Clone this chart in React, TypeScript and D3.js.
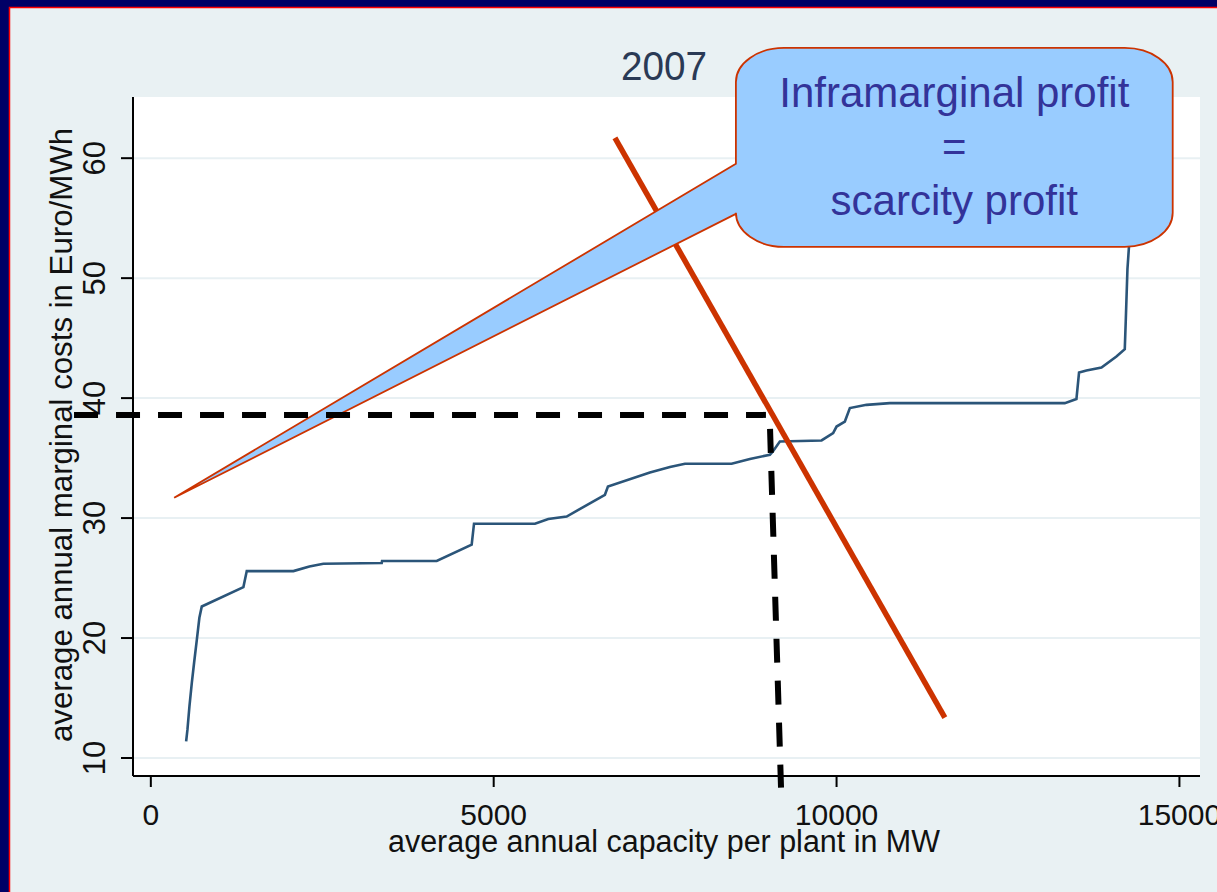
import React, { useEffect, useRef } from "react";
import * as d3 from "d3";

// supply curve: capacity (MW) / marginal cost (Euro/MWh)
const capacity = [
  515, 534, 563, 598, 631, 671, 708, 743, 1350, 1399, 2079, 2312, 2516, 3367,
  3372, 4169, 4679, 4713, 5602, 5796, 6064, 6622, 6666, 7278, 7570, 7789, 8469,
  8736, 9028, 9071, 9173, 9781, 9950, 10000, 10121, 10194, 10437, 10777, 13328,
  13498, 13536, 13644, 13863, 14081, 14203, 14217, 14242, 14265, 14290,
];
const cost = [
  11.38, 12.36, 14.3, 16.28, 17.94, 19.86, 21.69, 22.63, 24.25, 25.58, 25.58,
  25.97, 26.19, 26.25, 26.42, 26.42, 27.78, 29.53, 29.53, 29.92, 30.13, 31.94,
  32.63, 33.8, 34.25, 34.53, 34.53, 34.92, 35.28, 35.55, 36.38, 36.47, 37.08,
  37.63, 38.05, 39.17, 39.44, 39.58, 39.58, 39.92, 42.13, 42.3, 42.55, 43.47,
  44.08, 46.38, 50.75, 52.69, 56.5,
];

const xTicks = [0, 5000, 10000, 15000];
const yTicks = [10, 20, 30, 40, 50, 60];

// demand line (start, end)
const demandX = [6768, 11579];
const demandY = [61.7, 13.36];

// dashed price / quantity guides
const priceLineX = [-1120, 8970];
const priceLineY = [38.6, 38.6];
const quantityLineX = [9030, 9190];
const quantityLineY = [37.44, 7.53];

// callout box and pointer, in data units
const calloutX = [8532, 14902];
const calloutY = [69.19, 52.61];
const pointerY = [59.53, 55.36];
const pointerTip = [340, 31.69];
const calloutLines = ["Inframarginal profit", "=", "scarcity profit"];

const W = 1217;
const H = 892;

const App = () => {
  const ref = useRef<SVGSVGElement>(null);

  useEffect(() => {
    const svg = d3.select(ref.current);
    svg.selectAll("*").remove();

    const font = "'Liberation Sans', Arial, sans-serif";

    // frame
    svg.append("rect").attr("width", W).attr("height", H).attr("fill", "#000066");
    svg
      .append("rect")
      .attr("x", 9.5)
      .attr("y", 7.5)
      .attr("width", W)
      .attr("height", H)
      .attr("fill", "#e9f1f3")
      .attr("stroke", "#ff0000")
      .attr("stroke-width", 1.5);

    const x = d3.scaleLinear().domain([-260, 15300]).range([133, 1200]);
    const y = d3.scaleLinear().domain([8.5, 65.1]).range([776, 97]);

    // plot region
    svg
      .append("rect")
      .attr("x", x.range()[0])
      .attr("y", y.range()[1])
      .attr("width", x.range()[1] - x.range()[0])
      .attr("height", y.range()[0] - y.range()[1])
      .attr("fill", "#ffffff");

    // grid
    svg
      .append("g")
      .selectAll("line")
      .data(yTicks)
      .join("line")
      .attr("x1", x.range()[0])
      .attr("x2", x.range()[1])
      .attr("y1", (d) => y(d))
      .attr("y2", (d) => y(d))
      .attr("stroke", "#e8f0f3")
      .attr("stroke-width", 2);

    // axes
    const axisColor = "#000";
    svg
      .append("line")
      .attr("x1", x.range()[0])
      .attr("x2", x.range()[0])
      .attr("y1", y.range()[1])
      .attr("y2", y.range()[0])
      .attr("stroke", axisColor)
      .attr("stroke-width", 2);
    svg
      .append("line")
      .attr("x1", x.range()[0])
      .attr("x2", x.range()[1])
      .attr("y1", y.range()[0])
      .attr("y2", y.range()[0])
      .attr("stroke", axisColor)
      .attr("stroke-width", 2);

    svg
      .append("g")
      .selectAll("line")
      .data(yTicks)
      .join("line")
      .attr("x1", x.range()[0] - 12)
      .attr("x2", x.range()[0])
      .attr("y1", (d) => y(d))
      .attr("y2", (d) => y(d))
      .attr("stroke", axisColor)
      .attr("stroke-width", 2);

    svg
      .append("g")
      .selectAll("text")
      .data(yTicks)
      .join("text")
      .attr("transform", (d) => `translate(105, ${y(d)}) rotate(-90)`)
      .attr("text-anchor", "middle")
      .attr("font-family", font)
      .attr("font-size", 31)
      .attr("fill", "#111")
      .text((d) => d);

    svg
      .append("g")
      .selectAll("line")
      .data(xTicks)
      .join("line")
      .attr("x1", (d) => x(d))
      .attr("x2", (d) => x(d))
      .attr("y1", y.range()[0])
      .attr("y2", y.range()[0] + 11)
      .attr("stroke", axisColor)
      .attr("stroke-width", 2);

    svg
      .append("g")
      .selectAll("text")
      .data(xTicks)
      .join("text")
      .attr("x", (d) => x(d))
      .attr("y", 825)
      .attr("text-anchor", "middle")
      .attr("font-family", font)
      .attr("font-size", 30)
      .attr("fill", "#111")
      .text((d) => d);

    // axis titles
    svg
      .append("text")
      .attr("x", 664)
      .attr("y", 852)
      .attr("text-anchor", "middle")
      .attr("font-family", font)
      .attr("font-size", 31)
      .attr("textLength", 552)
      .attr("lengthAdjust", "spacingAndGlyphs")
      .attr("fill", "#111")
      .text("average annual capacity per plant in MW");

    svg
      .append("text")
      .attr("transform", "translate(72, 435) rotate(-90)")
      .attr("text-anchor", "middle")
      .attr("font-family", font)
      .attr("font-size", 31)
      .attr("textLength", 614)
      .attr("lengthAdjust", "spacingAndGlyphs")
      .attr("fill", "#111")
      .text("average annual marginal costs in Euro/MWh");

    // title
    svg
      .append("text")
      .attr("x", 664)
      .attr("y", 79.5)
      .attr("text-anchor", "middle")
      .attr("font-family", font)
      .attr("font-size", 40)
      .attr("textLength", 86)
      .attr("lengthAdjust", "spacingAndGlyphs")
      .attr("fill", "#2a3a55")
      .text("2007");

    // supply curve
    const pts = capacity.map((c, i) => [c, cost[i]] as [number, number]);
    const line = d3
      .line<[number, number]>()
      .x((d) => x(d[0]))
      .y((d) => y(d[1]));
    svg
      .append("path")
      .attr("d", line(pts))
      .attr("fill", "none")
      .attr("stroke", "#2b5579")
      .attr("stroke-width", 2.6);

    // demand
    svg
      .append("line")
      .attr("x1", x(demandX[0]))
      .attr("y1", y(demandY[0]))
      .attr("x2", x(demandX[1]))
      .attr("y2", y(demandY[1]))
      .attr("stroke", "#cc3300")
      .attr("stroke-width", 5.5);

    // callout
    const bx0 = x(calloutX[0]);
    const bx1 = x(calloutX[1]);
    const by0 = y(calloutY[0]);
    const by1 = y(calloutY[1]);
    const rx = 48;
    const ry = 34;
    const p = d3.path();
    p.moveTo(bx0 + rx, by0);
    p.lineTo(bx1 - rx, by0);
    p.bezierCurveTo(bx1 - rx * 0.45, by0, bx1, by0 + ry * 0.45, bx1, by0 + ry);
    p.lineTo(bx1, by1 - ry);
    p.bezierCurveTo(bx1, by1 - ry * 0.45, bx1 - rx * 0.45, by1, bx1 - rx, by1);
    p.lineTo(bx0 + rx, by1);
    p.bezierCurveTo(bx0 + rx * 0.45, by1, bx0, by1 - ry * 0.45, bx0, by1 - ry);
    p.lineTo(bx0, y(pointerY[1]));
    p.lineTo(x(pointerTip[0]), y(pointerTip[1]));
    p.lineTo(bx0, y(pointerY[0]));
    p.lineTo(bx0, by0 + ry);
    p.bezierCurveTo(bx0, by0 + ry * 0.45, bx0 + rx * 0.45, by0, bx0 + rx, by0);
    p.closePath();
    svg
      .append("path")
      .attr("d", p.toString())
      .attr("fill", "#99ccff")
      .attr("stroke", "#cc3300")
      .attr("stroke-width", 1.8)
      .attr("stroke-linejoin", "miter");

    svg
      .append("g")
      .selectAll("text")
      .data(calloutLines)
      .join("text")
      .attr("x", (bx0 + bx1) / 2)
      .attr("y", (_, i) => 107 + i * 54)
      .attr("text-anchor", "middle")
      .attr("font-family", font)
      .attr("font-size", 42)
      .attr("fill", "#333399")
      .text((d) => d);

    // dashed guides
    const dashed = (xs: number[], ys: number[]) =>
      svg
        .append("line")
        .attr("x1", x(xs[0]))
        .attr("y1", y(ys[0]))
        .attr("x2", x(xs[1]))
        .attr("y2", y(ys[1]))
        .attr("stroke", "#000")
        .attr("stroke-width", 6)
        .attr("stroke-dasharray", "24 18");
    dashed(priceLineX, priceLineY);
    dashed(quantityLineX, quantityLineY);
  }, []);

  return (
    <svg
      ref={ref}
      width={W}
      height={H}
      style={{ position: "absolute", left: 0, top: 0, display: "block" }}
    />
  );
};

export default App;
